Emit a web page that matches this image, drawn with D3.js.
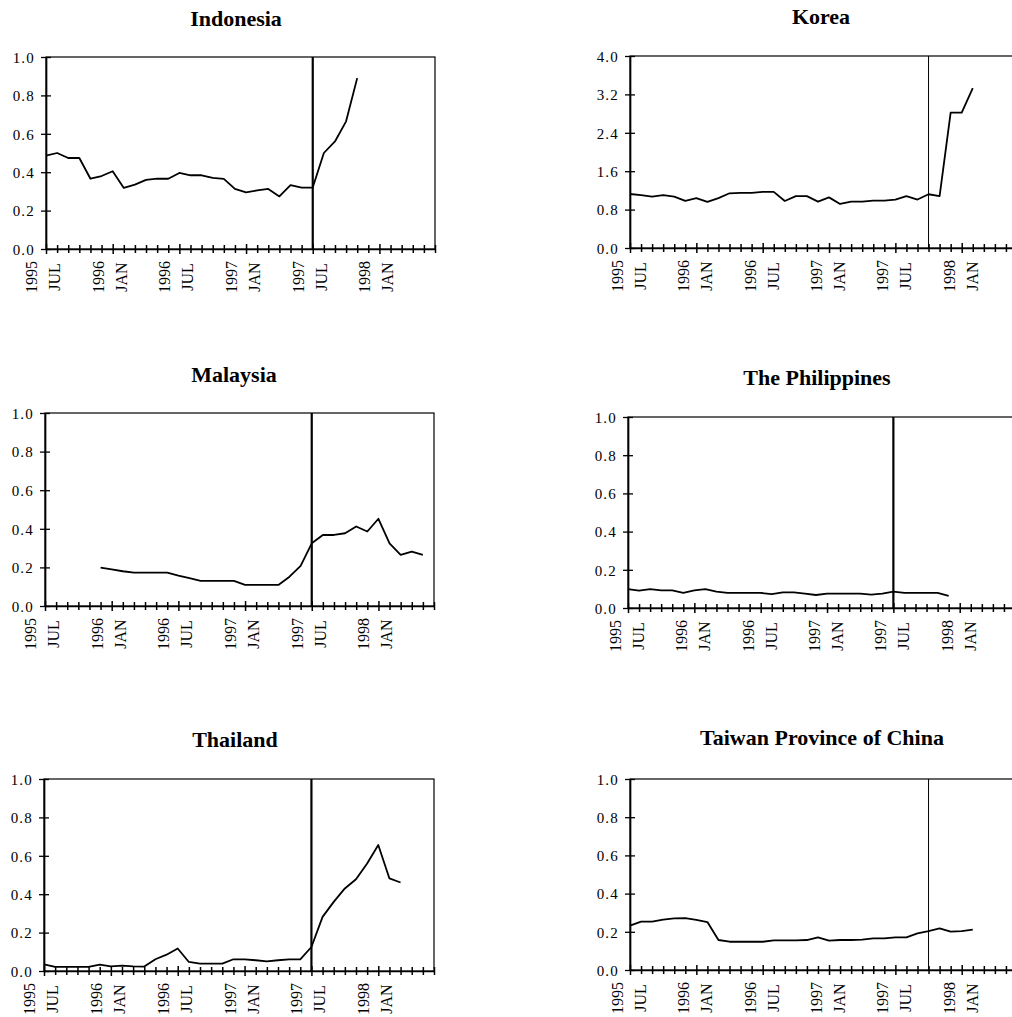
<!DOCTYPE html>
<html>
<head>
<meta charset="utf-8">
<script src="https://cdn.jsdelivr.net/npm/d3@7"></script>
<style>
  html, body { margin: 0; padding: 0; background: #fff; }
  svg { display: block; }
  text { font-family: "Liberation Serif", "DejaVu Serif", serif; fill: #000; }
</style>
</head>
<body>
<svg id="chart" width="1012" height="1017"></svg>
<script>
// ---------------- DATA ----------------
const titles = ["Indonesia", "Korea", "Malaysia", "The Philippines", "Thailand", "Taiwan Province of China"];

// month index 0 = JUL 1995 ... 35 = JUN 1998
const monthCount = 36;
const tickLabelIndex = [0, 6, 12, 18, 24, 30];
const tickLabelYears = ["1995", "1996", "1996", "1997", "1997", "1998"];
const tickLabelMonths = ["JUL", "JAN", "JUL", "JAN", "JUL", "JAN"];

const yMaxes = [1.0, 4.0, 1.0, 1.0, 1.0, 1.0];
const yTicksUnit = [0, 0.2, 0.4, 0.6, 0.8, 1.0];
const yTicksKorea = [0, 0.8, 1.6, 2.4, 3.2, 4.0];

// month index of the vertical reference line
const crisisMonth = [24, 27, 24, 24, 24, 27];

const indonesia = [0.486, 0.50, 0.474, 0.474, 0.366, 0.38, 0.405, 0.318, 0.335, 0.36, 0.366, 0.366,
  0.396, 0.384, 0.384, 0.37, 0.365, 0.313, 0.295, 0.305, 0.313, 0.274, 0.333, 0.32, 0.32,
  0.50, 0.56, 0.665, 0.89];

const korea = [1.125, 1.10, 1.07, 1.10, 1.07, 0.98, 1.04, 0.96, 1.04, 1.14, 1.15, 1.15,
  1.17, 1.17, 0.98, 1.08, 1.08, 0.965, 1.055, 0.917, 0.965, 0.965, 0.985, 0.985,
  1.01, 1.08, 1.01, 1.12, 1.08, 2.82, 2.82, 3.33];

const malaysia = [null, null, null, null, null, 0.199, 0.19, 0.18, 0.173, 0.173, 0.173, 0.173,
  0.157, 0.144, 0.13, 0.13, 0.13, 0.13, 0.109, 0.109, 0.109, 0.109, 0.152, 0.208,
  0.325, 0.368, 0.368, 0.377, 0.412, 0.386, 0.452, 0.325, 0.265, 0.282, 0.265];

const philippines = [0.099, 0.091, 0.099, 0.092, 0.092, 0.079, 0.092, 0.099, 0.086, 0.079, 0.079, 0.079,
  0.079, 0.073, 0.082, 0.082, 0.075, 0.068, 0.075, 0.075, 0.075, 0.075, 0.07, 0.075,
  0.086, 0.079, 0.079, 0.079, 0.079, 0.063];

const thailand = [0.035, 0.021, 0.021, 0.021, 0.021, 0.033, 0.024, 0.028, 0.024, 0.023, 0.061, 0.085,
  0.117, 0.047, 0.038, 0.038, 0.038, 0.061, 0.061, 0.056, 0.05, 0.056, 0.061, 0.061,
  0.125, 0.282, 0.36, 0.43, 0.478, 0.56, 0.656, 0.482, 0.461];

const taiwan = [0.232, 0.253, 0.253, 0.264, 0.27, 0.272, 0.262, 0.251, 0.157, 0.148, 0.148, 0.148,
  0.148, 0.155, 0.155, 0.155, 0.157, 0.171, 0.154, 0.157, 0.157, 0.159, 0.166, 0.166,
  0.171, 0.171, 0.192, 0.204, 0.218, 0.201, 0.204, 0.211];

const series = [indonesia, korea, malaysia, philippines, thailand, taiwan];

// ---------------- LAYOUT ----------------
const layout = [
  { x0: 46,  x1: 435,  top: 57,  bottom: 249, tx: 236, ty: 26,  col: 0, vw: 2.2 },
  { x0: 630, x1: 1017, top: 56,  bottom: 248, tx: 821, ty: 24,  col: 1, vw: 1.0 },
  { x0: 45,  x1: 434,  top: 413, bottom: 606, tx: 234, ty: 382, col: 0, vw: 2.2 },
  { x0: 628, x1: 1015, top: 417, bottom: 608, tx: 817, ty: 385, col: 1, vw: 2.2 },
  { x0: 44,  x1: 434,  top: 779, bottom: 971, tx: 235, ty: 747, col: 0, vw: 2.2 },
  { x0: 630, x1: 1017, top: 779, bottom: 970, tx: 822, ty: 745, col: 1, vw: 1.0 }
];
const labelOffsets = [{ yr: -9, mo: 14 }, { yr: -7, mo: 16 }];

const svg = d3.select("#chart");
const fmt = d3.format(".1f");

series.forEach((data, p) => {
  const L = layout[p];
  const x = d3.scaleLinear().domain([0, monthCount - 1]).range([L.x0, L.x1]);
  const y = d3.scaleLinear().domain([0, yMaxes[p]]).range([L.bottom, L.top]);
  const g = svg.append("g");

  // title
  g.append("text")
    .attr("x", L.tx).attr("y", L.ty)
    .attr("text-anchor", "middle")
    .style("font-size", "22px").style("font-weight", "bold")
    .text(titles[p]);

  // frame
  g.append("rect")
    .attr("x", L.x0).attr("y", L.top)
    .attr("width", L.x1 - L.x0).attr("height", L.bottom - L.top)
    .attr("fill", "none").attr("stroke", "#000").attr("stroke-width", 1.2);

  // x axis
  const xAxis = g.append("g")
    .attr("transform", `translate(0,${L.bottom})`)
    .call(d3.axisBottom(x).tickValues(d3.range(monthCount)).tickFormat("").tickSizeOuter(0));
  xAxis.select(".domain").attr("stroke", "#000").attr("stroke-width", 1.7);
  xAxis.selectAll(".tick line")
    .attr("stroke", "#000").attr("stroke-width", 1.5)
    .attr("y1", d => (d % 6 === 0 ? -5 : -4))
    .attr("y2", d => (d % 6 === 0 ? 5 : 4));

  // y axis
  const yt = yMaxes[p] > 1 ? yTicksKorea : yTicksUnit;
  const yAxis = g.append("g")
    .attr("transform", `translate(${L.x0},0)`)
    .call(d3.axisLeft(y).tickValues(yt).tickFormat(fmt).tickSizeOuter(0));
  yAxis.select(".domain").attr("stroke", "#000").attr("stroke-width", 1.7);
  yAxis.selectAll(".tick line")
    .attr("stroke", "#000").attr("stroke-width", 1.3)
    .attr("x1", -5).attr("x2", 5);
  yAxis.selectAll(".tick text")
    .attr("x", -11).attr("dy", "0.35em")
    .style("font-family", "'Liberation Serif', serif")
    .style("font-size", "15px")
    .style("letter-spacing", "1.2px")
    .attr("fill", "#000");

  // x tick labels (two rotated lines)
  const off = labelOffsets[L.col];
  tickLabelIndex.forEach((m, k) => {
    const cx = x(m);
    g.append("text")
      .attr("transform", `translate(${cx + off.yr},${L.bottom + 28}) rotate(-90)`)
      .attr("text-anchor", "middle")
      .style("font-size", "16px")
      .text(tickLabelYears[k]);
    g.append("text")
      .attr("transform", `translate(${cx + off.mo},${L.bottom + 28}) rotate(-90)`)
      .attr("text-anchor", "middle")
      .style("font-size", "16px")
      .text(tickLabelMonths[k]);
  });

  // vertical reference line
  g.append("line")
    .attr("x1", x(crisisMonth[p])).attr("x2", x(crisisMonth[p]))
    .attr("y1", L.top).attr("y2", L.bottom)
    .attr("stroke", "#000").attr("stroke-width", L.vw);

  // data line
  const line = d3.line()
    .defined(d => d != null)
    .x((d, i) => x(i))
    .y(d => y(d));
  g.append("path")
    .datum(data)
    .attr("d", line)
    .attr("fill", "none")
    .attr("stroke", "#000")
    .attr("stroke-width", 1.8)
    .attr("stroke-linejoin", "round");
});
</script>
</body>
</html>
